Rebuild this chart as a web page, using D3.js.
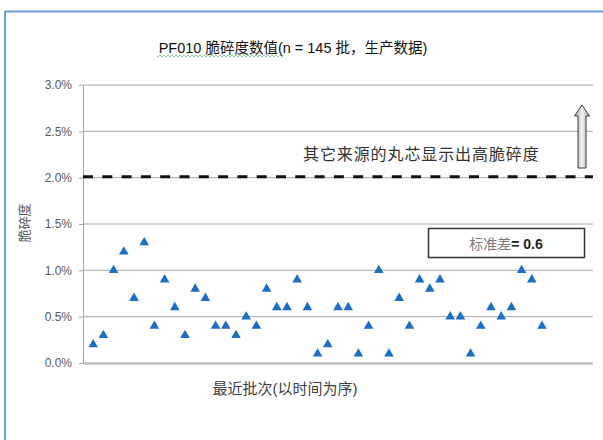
<!DOCTYPE html>
<html>
<head>
<meta charset="utf-8">
<script src="https://cdn.jsdelivr.net/npm/d3@7"></script>
<style>
  html, body { margin: 0; padding: 0; background: #fff; }
  svg text { font-family: "Liberation Sans", Arial, "Noto Sans CJK SC", sans-serif; }
</style>
</head>
<body>
<svg id="chart" width="603" height="440"></svg>
<script>
// ---- data ----
const batchValues = [0.2,0.3,1.0,1.2,0.7,1.3,0.4,0.9,0.6,0.3,0.8,0.7,0.4,0.4,0.3,0.5,0.4,0.8,0.6,0.6,0.9,0.6,0.1,0.2,0.6,0.6,0.1,0.4,1.0,0.1,0.7,0.4,0.9,0.8,0.9,0.5,0.5,0.1,0.4,0.6,0.5,0.6,1.0,0.9,0.4];
const yTicks = [0, 0.5, 1.0, 1.5, 2.0, 2.5, 3.0];
const thresholdValue = [2.0];
const titleText = "PF010 脆碎度数值(n = 145 批，生产数据)";
const xLabel = "最近批次(以时间为序)";
const yLabel = "脆碎度";
const noteText = "其它来源的丸芯显示出高脆碎度";
const sdLabel = "标准差";
const sdValue = "= 0.6";

// ---- layout ----
const svg = d3.select("#chart");
const plotLeft = 83, plotRight = 593, plotTop = 85, plotBottom = 363;

const x = d3.scaleLinear().domain([0, 50]).range([plotLeft, plotRight]);
const y = d3.scaleLinear().domain([0, 3]).range([plotBottom, plotTop]);

// outer frame (blue)
svg.append("path")
  .attr("d", `M5,440 L5,11.5 L603,11.5`)
  .attr("fill", "none").attr("stroke", "#6c9fd6").attr("stroke-width", 2);

// title
svg.append("text").attr("x", 293).attr("y", 53).attr("text-anchor", "middle")
  .attr("font-size", 14.5).attr("fill", "#111").text(titleText);
// spell-check squiggle under first part of title
{
  let d = "M157,56";
  for (let i = 157; i < 283; i += 2) d += ` L${i + 1},${(i % 4 === 1) ? 57 : 55} L${i + 2},56`;
  svg.append("path").attr("d", d).attr("fill", "none").attr("stroke", "#7cc07c").attr("stroke-width", 0.8);
}

// gridlines (skip 0 which is axis)
svg.append("g").selectAll("line").data(yTicks.filter(t => t > 0)).join("line")
  .attr("x1", plotLeft).attr("x2", plotRight)
  .attr("y1", d => y(d)).attr("y2", d => y(d))
  .attr("stroke", "#a6a6a6").attr("stroke-width", 1);

// y axis
const yAxis = d3.axisLeft(y).tickValues(yTicks).tickSize(4).tickSizeOuter(0)
  .tickFormat(d => d.toFixed(1) + "%");
const gy = svg.append("g").attr("transform", `translate(${plotLeft},0)`).call(yAxis);
gy.select(".domain").attr("stroke", "#a6a6a6");
gy.selectAll(".tick line").attr("stroke", "#a6a6a6");
gy.selectAll(".tick text").attr("font-size", 12).attr("fill", "#595959")
  .attr("x", -11).attr("font-family", "\"Liberation Sans\", Arial, sans-serif");

// x axis baseline
svg.append("line").attr("x1", plotLeft).attr("x2", plotRight)
  .attr("y1", y(0) + 0.5).attr("y2", y(0) + 0.5)
  .attr("stroke", "#bfbfbf").attr("stroke-width", 2.5);

// threshold dashed line
svg.append("g").selectAll("line").data(thresholdValue).join("line")
  .attr("x1", plotLeft).attr("x2", plotRight)
  .attr("y1", d => y(d) - 1).attr("y2", d => y(d) - 1)
  .attr("stroke", "#111").attr("stroke-width", 3)
  .attr("stroke-dasharray", "10,9.3");

// note text
svg.append("text").attr("x", 303).attr("y", 160)
  .attr("font-size", 16).attr("letter-spacing", 0.9).attr("fill", "#333")
  .text(noteText);

// arrow with gradient
const defs = svg.append("defs");
const grad = defs.append("linearGradient").attr("id", "arrowGrad")
  .attr("x1", "0%").attr("x2", "100%").attr("y1", "0%").attr("y2", "0%");
grad.append("stop").attr("offset", "0%").attr("stop-color", "#9a9a9a");
grad.append("stop").attr("offset", "50%").attr("stop-color", "#f4f4f4");
grad.append("stop").attr("offset", "100%").attr("stop-color", "#9a9a9a");
svg.append("path")
  .attr("d", "M578,168 L578,116 L574.5,116 L582,105 L589.5,116 L586,116 L586,168 Z")
  .attr("fill", "url(#arrowGrad)").attr("stroke", "#3a3a3a").attr("stroke-width", 1);

// std dev box
svg.append("rect").attr("x", 428.5).attr("y", 228.5).attr("width", 156).attr("height", 29)
  .attr("fill", "#fff").attr("stroke", "#333").attr("stroke-width", 1.5);
const sd = svg.append("text").attr("x", 506).attr("y", 249).attr("text-anchor", "middle")
  .attr("font-size", 14);
sd.append("tspan").attr("fill", "#7a7a7a").text(sdLabel);
sd.append("tspan").attr("fill", "#222").attr("font-weight", "bold").text(sdValue);

// points
svg.append("g").selectAll("path").data(batchValues).join("path")
  .attr("transform", (d, i) => `translate(${x(i + 1)},${y(d)})`)
  .attr("d", d3.symbol(d3.symbolTriangle, 40))
  .attr("fill", "#1b6ec2");

// x label
svg.append("text").attr("x", 285).attr("y", 394).attr("text-anchor", "middle")
  .attr("font-size", 15).attr("fill", "#404040").text(xLabel);

// y label
svg.append("text").attr("transform", "translate(29,223) rotate(-90)")
  .attr("text-anchor", "middle").attr("font-size", 13).attr("fill", "#595959").text(yLabel);
</script>
</body>
</html>
